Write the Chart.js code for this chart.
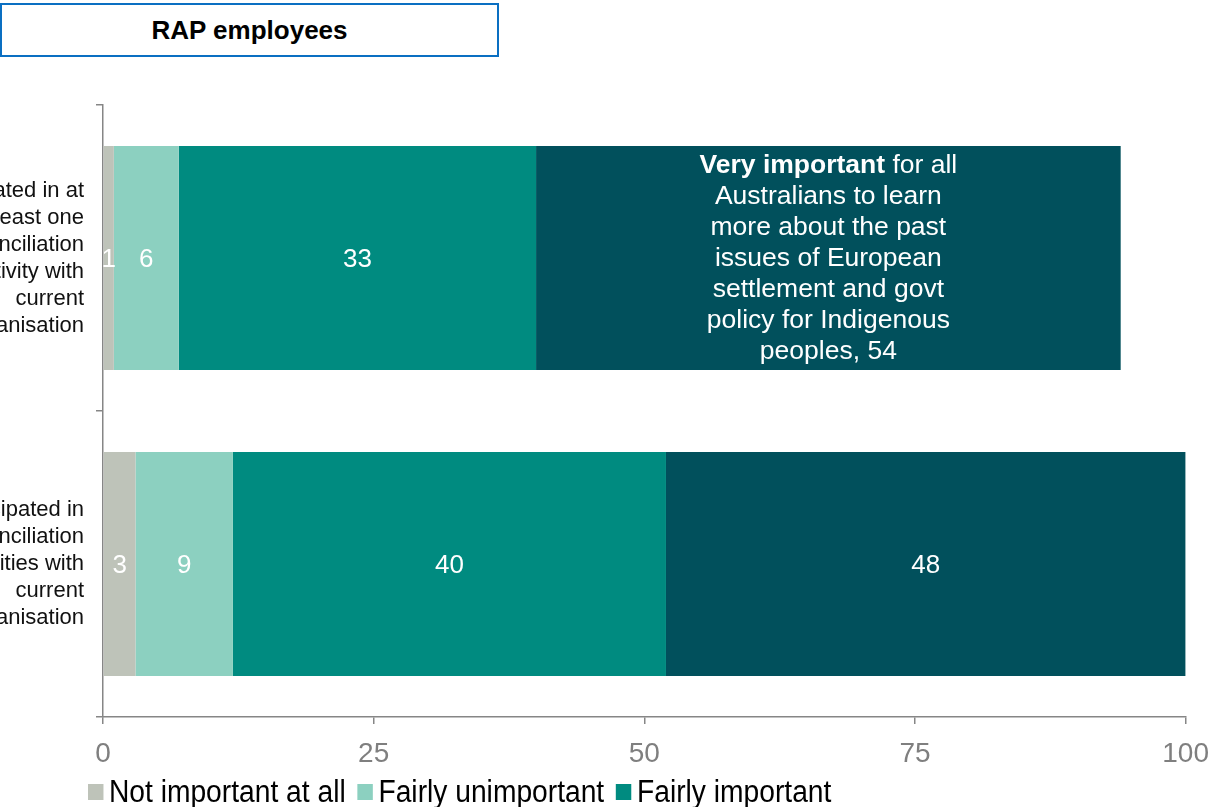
<!DOCTYPE html>
<html>
<head>
<meta charset="utf-8">
<title>RAP employees</title>
<script src="https://cdn.jsdelivr.net/npm/chart.js@4.4.0/dist/chart.umd.min.js"></script>
<style>
  html, body { margin: 0; padding: 0; background: #fff; }
  body { width: 1210px; height: 807px; overflow: hidden; position: relative; font-family: "Liberation Sans", Arial, sans-serif; }
  #title { position: absolute; left: 0; top: 3px; width: 499px; height: 54px; box-sizing: border-box;
           border: 2px solid #0A6FC2; font-weight: bold; font-size: 26px; line-height: 50px; text-align: center; color: #000; }
  #wrap { position: absolute; left: 0; top: 0; width: 1222px; height: 810px; }
  #legend { position: absolute; left: 88px; top: 774px; width: 900px; display: flex; flex-wrap: wrap;
            transform: scaleX(0.91); transform-origin: 0 0; }
  .item { display: flex; align-items: center; height: 36px; margin-right: 13px; font-size: 31px; color: #000; white-space: nowrap; }
  .swatch { width: 17px; height: 16px; margin-right: 6px; }
</style>
</head>
<body>
<div id="title">RAP employees</div>
<div id="wrap"><canvas id="barChart"></canvas></div>
<div id="legend"></div>
<script>
// categories (multi-line axis labels)
const categories = [
  ['Participated in at', 'least one', 'reconciliation', 'activity with', 'current', 'organisation'],
  ['Not participated in', 'any reconciliation', 'activities with', 'current', 'organisation']
];
const seriesNames = ['Not important at all', 'Fairly unimportant', 'Fairly important', 'Very important'];

// percentages per category
const notImportant = [1, 3];
const fairlyUnimportant = [6, 9];
const fairlyImportant = [33, 40];
const veryImportant = [54, 48];

const xTicks = [0, 25, 50, 75, 100];
const colours = ['#BEC3B9', '#8CD0C0', '#008B80', '#01505C'];

// text printed inside the first "Very important" bar
const calloutBold = 'Very important';
const calloutLines = [' for all', 'Australians to learn', 'more about the past', 'issues of European',
                      'settlement and govt', 'policy for Indigenous', 'peoples, '];

const fontFamily = '"Liberation Sans", Arial, sans-serif';
const axisGrey = '#868686';

function drawCallout(ctx, cx, cy, value) {
  const lineH = 31;
  const top = cy - lineH * (calloutLines.length - 1) / 2 + 1;
  ctx.textBaseline = 'middle';
  // first line: bold lead + regular rest
  ctx.font = 'bold 26.5px ' + fontFamily;
  const w1 = ctx.measureText(calloutBold).width;
  ctx.font = '26.5px ' + fontFamily;
  const w2 = ctx.measureText(calloutLines[0]).width;
  const x0 = cx - (w1 + w2) / 2;
  ctx.textAlign = 'left';
  ctx.font = 'bold 26.5px ' + fontFamily;
  ctx.fillText(calloutBold, x0, top);
  ctx.font = '26.5px ' + fontFamily;
  ctx.fillText(calloutLines[0], x0 + w1, top);
  ctx.textAlign = 'center';
  for (let i = 1; i < calloutLines.length; i++) {
    let txt = calloutLines[i];
    if (i === calloutLines.length - 1) txt += value;
    ctx.fillText(txt, cx, top + i * lineH);
  }
}

// value labels inside the bar segments
const barLabels = {
  id: 'barLabels',
  afterDatasetsDraw(chart) {
    const ctx = chart.ctx;
    ctx.save();
    ctx.fillStyle = '#fff';
    chart.data.datasets.forEach(function(ds, di) {
      chart.getDatasetMeta(di).data.forEach(function(bar, i) {
        const v = ds.data[i];
        const cx = (bar.x + bar.base) / 2;
        if (di === 3 && i === 0) {
          drawCallout(ctx, cx, bar.y, v);
          return;
        }
        ctx.font = '26px ' + fontFamily;
        ctx.textAlign = 'center';
        ctx.textBaseline = 'middle';
        ctx.fillText(String(v), cx, bar.y + 2);
      });
    });
    ctx.restore();
  }
};

const seriesData = [notImportant, fairlyUnimportant, fairlyImportant, veryImportant];

const ctxBar = document.getElementById('barChart').getContext('2d');
const barChart = new Chart(ctxBar, {
  type: 'bar',
  data: {
    labels: categories,
    datasets: seriesNames.map(function(name, k) {
      return {
        label: name,
        data: seriesData[k],
        backgroundColor: colours[k],
        borderWidth: 0,
        barPercentage: 0.732,
        categoryPercentage: 1
      };
    })
  },
  options: {
    indexAxis: 'y',
    responsive: true,
    maintainAspectRatio: false,
    animation: false,
    layout: { padding: { top: 105, right: 14, bottom: 32, left: 0 } },
    scales: {
      x: {
        stacked: true,
        min: xTicks[0],
        max: xTicks[xTicks.length - 1],
        afterBuildTicks: function(scale) { scale.ticks = xTicks.map(function(v) { return { value: v }; }); },
        afterFit: function(scale) { scale.height = 50; },
        grid: { drawOnChartArea: false, tickLength: 7, color: axisGrey, lineWidth: 1.5 },
        border: { color: axisGrey, width: 1.5 },
        ticks: { color: '#7F7F7F', padding: 13, font: { family: fontFamily, size: 28 } }
      },
      y: {
        stacked: true,
        afterFit: function(scale) { scale.width = 103; },
        grid: { drawOnChartArea: false, tickLength: 7, color: axisGrey, lineWidth: 1.5 },
        border: { color: axisGrey, width: 1.5 },
        ticks: { color: '#111', padding: 12, font: { family: fontFamily, size: 22, lineHeight: 1.227 } }
      }
    },
    plugins: {
      legend: { display: false },
      tooltip: { enabled: false }
    }
  },
  plugins: [barLabels]
});

// legend row under the axis
const legendBox = document.getElementById('legend');
seriesNames.forEach(function(name, k) {
  const item = document.createElement('div');
  item.className = 'item';
  const sw = document.createElement('span');
  sw.className = 'swatch';
  sw.style.background = colours[k];
  item.appendChild(sw);
  item.appendChild(document.createTextNode(name));
  legendBox.appendChild(item);
});
</script>
</body>
</html>
